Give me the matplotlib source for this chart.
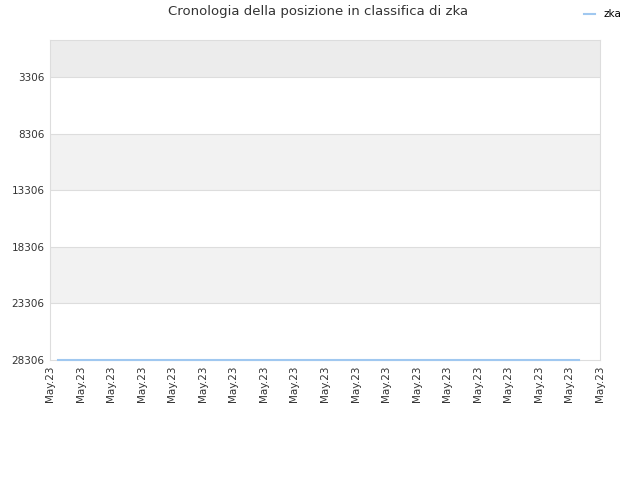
import matplotlib
matplotlib.use("Agg")
import matplotlib.pyplot as plt

title = "Cronologia della posizione in classifica di zka"
series_name = "zka"
tick_labels = ["May.23"] * 19
tick_positions = list(range(19))
line_x = [0.26, 17.3]
line_rank = [28306, 28306]
y_ticks = [3306, 8306, 13306, 18306, 23306, 28306]
y_top = 1
y_bottom = 28306

fig = plt.figure(figsize=(6.4, 4.8), dpi=100)
ax = fig.add_axes([50/640, 1-360/480, 550/640, 320/480])

# background bands
edges = [y_top] + y_ticks
band_colors = ["#ececec", "#ffffff", "#f2f2f2", "#ffffff", "#f2f2f2", "#ffffff"]
for i in range(len(edges) - 1):
    ax.axhspan(edges[i], edges[i+1], color=band_colors[i], zorder=0, lw=0)
for yt in y_ticks[:-1]:
    ax.axhline(yt, color="#dddddd", lw=0.8, zorder=1)

ax.plot(line_x, line_rank, color="#a0c8f0", lw=1.5, zorder=5, label=series_name,
        clip_on=False)

ax.set_ylim(y_bottom, y_top)
ax.set_xlim(0, 18)
ax.set_yticks(y_ticks)
ax.set_yticklabels([str(v) for v in y_ticks], fontsize=7.5, color="#333333")
ax.set_xticks(tick_positions)
ax.set_xticklabels(tick_labels, rotation=90, fontsize=7.5, color="#333333")
ax.tick_params(length=0, pad=4)
for s in ax.spines.values():
    s.set_color("#dddddd")
    s.set_linewidth(0.8)

fig.text(0.497, 1-12/480, title, ha="center", va="center", fontsize=9.5, color="#333333")
leg = fig.legend(loc="upper right", bbox_to_anchor=(0.985, 1.0), frameon=False,
                 fontsize=7.5, handlelength=1.0, handletextpad=0.8)
fig.savefig("out.png", dpi=100)
